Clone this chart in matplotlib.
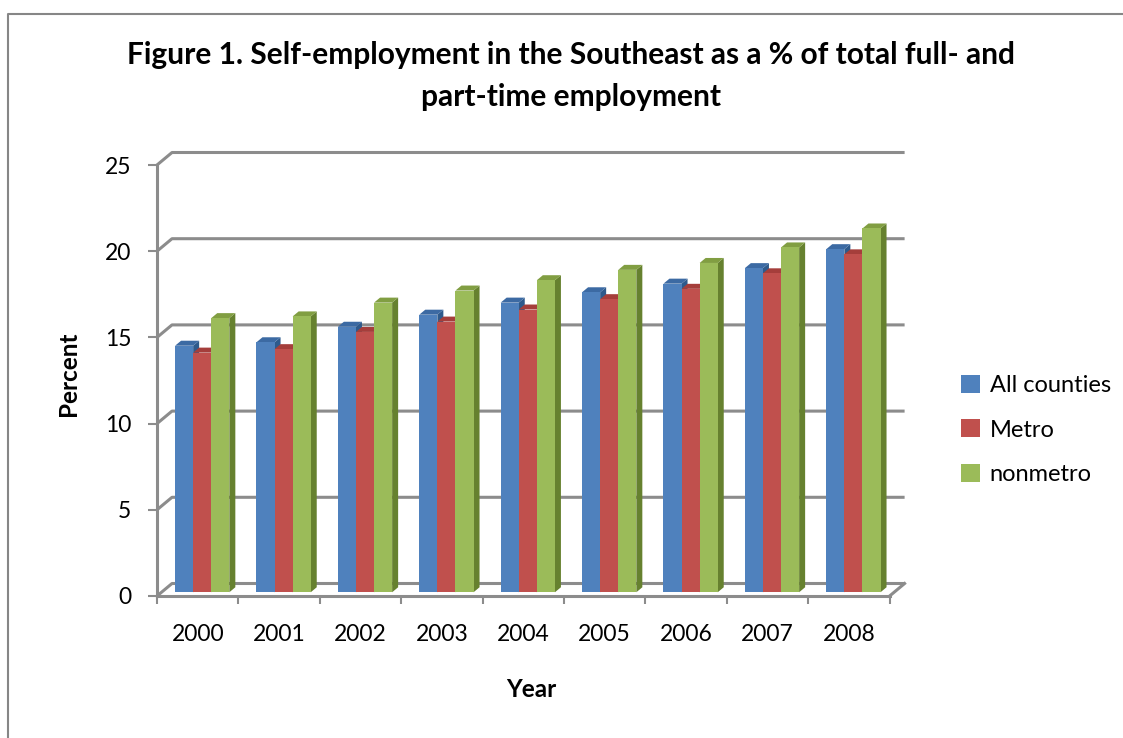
import matplotlib.pyplot as plt
from matplotlib.patches import Polygon

plt.rcParams['font.family'] = ['Lato', 'DejaVu Sans']

# data
years = ['2000', '2001', '2002', '2003', '2004', '2005', '2006', '2007', '2008']
all_counties = [14.3, 14.5, 15.4, 16.1, 16.8, 17.4, 17.9, 18.8, 19.9]
metro = [13.9, 14.1, 15.1, 15.7, 16.4, 17.0, 17.6, 18.5, 19.6]
nonmetro = [15.9, 16.0, 16.8, 17.5, 18.1, 18.7, 19.1, 20.0, 21.1]

series = [('All counties', all_counties, '#4F81BD', '#2E5A8C', '#3C6AA3'),
          ('Metro', metro, '#C0504D', '#8E2F2D', '#A53E3B'),
          ('nonmetro', nonmetro, '#9BBB59', '#66812F', '#819E42')]

W, H = 1123, 738
fig = plt.figure(figsize=(W / 100, H / 100), dpi=100)

# pixel frame of the plot (front axis at x=157, y 0 -> 596, 25 -> 165)
px_cat = 81.4
px_val = (596 - 165) / 25.0
DX = 15 / px_cat      # depth offset in category units
DY = 12.5 / px_val    # depth offset in value units
n = len(years)
x_left, y_bot = 157, 596
x_right = x_left + (n + DX) * px_cat
y_top = 165 - 12.5
ax = fig.add_axes([x_left / W, (H - y_bot) / H, (x_right - x_left) / W, (y_bot - y_top) / H])
ax.set_xlim(0, n + DX)
ax.set_ylim(0, 25 + DY)
ax.patch.set_alpha(0)

grid_c = '#8C8C8C'
for v in range(0, 30, 5):
    ax.plot([0, DX, n + DX], [v, v + DY, v + DY], color=grid_c, lw=2.2,
            solid_capstyle='butt', zorder=1, clip_on=False)
# right edge of the floor
ax.plot([n, n + DX], [0, DY], color=grid_c, lw=2.2, zorder=1, clip_on=False)

# 3d-looking bars
bw = 1 / 4.5
f0, f1 = 0.3, 0.7
for i in range(n):
    for j, (name, vals, c_front, c_side, c_top) in enumerate(series):
        v = vals[i]
        x0 = i + 0.75 * bw + j * bw
        x1 = x0 + bw
        ax.add_patch(Polygon([(x1 + f0 * DX, f0 * DY), (x1 + f0 * DX, v + f0 * DY),
                              (x1 + f1 * DX, v + f1 * DY), (x1 + f1 * DX, f1 * DY)],
                             closed=True, fc=c_side, ec='none', zorder=2 + j))
        ax.add_patch(Polygon([(x0 + f0 * DX, v + f0 * DY), (x1 + f0 * DX, v + f0 * DY),
                              (x1 + f1 * DX, v + f1 * DY), (x0 + f1 * DX, v + f1 * DY)],
                             closed=True, fc=c_top, ec='none', zorder=2 + j))
        ax.add_patch(Polygon([(x0 + f0 * DX, f0 * DY), (x1 + f0 * DX, f0 * DY),
                              (x1 + f0 * DX, v + f0 * DY), (x0 + f0 * DX, v + f0 * DY)],
                             closed=True, fc=c_front, ec='none', zorder=2 + j,
                             label=name if i == 0 else None))

# axes
for s in ['top', 'right']:
    ax.spines[s].set_visible(False)
ax.spines['left'].set_bounds(0, 25)
ax.spines['bottom'].set_bounds(0, n)
for s in ['left', 'bottom']:
    ax.spines[s].set_color(grid_c)
    ax.spines[s].set_linewidth(2.2)
    ax.spines[s].set_zorder(6)
ax.set_yticks(range(0, 30, 5))
ax.set_xticks(range(n + 1))
ax.set_xticklabels([])
ax.set_xticks([i + 0.5 for i in range(n)], minor=True)
ax.set_xticklabels(years, minor=True)
ax.tick_params(axis='y', length=6.5, width=1.5, color=grid_c, pad=12, labelsize=16.5)
ax.tick_params(axis='x', which='major', length=6, width=1.5, color=grid_c)
ax.tick_params(axis='x', which='minor', length=0, pad=20, labelsize=16.5)

ax.set_xlabel('Year', fontsize=17.5, fontweight='bold', labelpad=24)
ax.set_ylabel('Percent', fontsize=17.5, fontweight='bold', labelpad=18)

fig.text(571 / W, 1 - 55 / H, 'Figure 1. Self-employment in the Southeast as a % of total full- and',
         ha='center', va='center', fontsize=21.5, fontweight='bold')
fig.text(571 / W, 1 - 97 / H, 'part-time employment',
         ha='center', va='center', fontsize=21.5, fontweight='bold')

leg = ax.legend(loc='center left', bbox_to_anchor=(940 / W, 1 - 430 / H),
                bbox_transform=fig.transFigure, frameon=False, fontsize=17,
                handlelength=0.8, handleheight=0.8, handletextpad=0.4, labelspacing=1.0)

# chart border (cropped on right and bottom)
fig.add_artist(plt.Line2D([8 / W, 8 / W, 1], [0, 1 - 14 / H, 1 - 14 / H],
                          transform=fig.transFigure, color='#868686', lw=1.5))

fig.savefig('out.png', dpi=100)
